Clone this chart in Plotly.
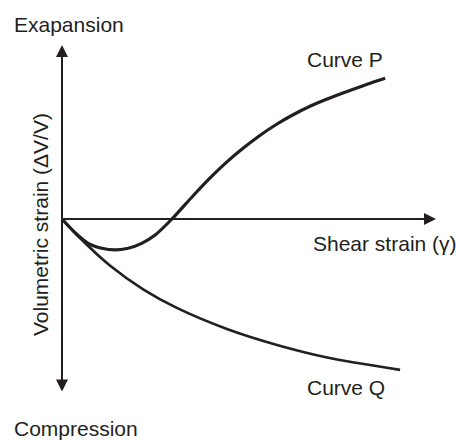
import plotly.graph_objects as go

# Curve P: dilation after initial compression (arbitrary units)
shear_p = [0, 0.35, 0.70, 1.06, 1.42, 1.77, 2.13, 2.49, 2.94, 3.50, 3.96, 4.41, 4.84,
           5.29, 5.75, 6.18, 6.63, 7.09, 7.57, 8.16, 8.64]
vol_p = [0, -0.79, -1.40, -1.68, -1.78, -1.68, -1.40, -0.92, 0, 1.32, 2.36, 3.28, 4.06,
         4.80, 5.46, 5.99, 6.48, 6.90, 7.29, 7.75, 8.09]

# Curve Q: continuous compression
shear_q = [0, 0.48, 1.28, 2.17, 3.07, 4.41, 5.75, 7.09, 9.04]
vol_q = [0, -1.09, -2.67, -4.04, -5.11, -6.32, -7.24, -7.96, -8.67]

x_axis_end = 10
y_axis_end = 10

INK = "#231f20"
FONT = "Liberation Sans, Arial, sans-serif"

fig = go.Figure()
fig.add_trace(go.Scatter(x=shear_p, y=vol_p, mode="lines",
                         line=dict(color=INK, width=3.2, shape="spline", smoothing=0.8),
                         showlegend=False, hoverinfo="skip"))
fig.add_trace(go.Scatter(x=shear_q, y=vol_q, mode="lines",
                         line=dict(color=INK, width=2.6, shape="spline", smoothing=0.8),
                         showlegend=False, hoverinfo="skip"))

# axes drawn as arrows
fig.add_annotation(x=0, y=y_axis_end, ax=0, ay=-y_axis_end, xref="x", yref="y",
                   axref="x", ayref="y", text="", showarrow=True,
                   arrowhead=2, arrowsize=1.2, arrowwidth=2, arrowcolor=INK,
                   arrowside="end+start")
fig.add_annotation(x=x_axis_end, y=0, ax=0, ay=0, xref="x", yref="y",
                   axref="x", ayref="y", text="", showarrow=True,
                   arrowhead=2, arrowsize=1.2, arrowwidth=2, arrowcolor=INK)

def label(text, x, y, xanchor="left", angle=0):
    fig.add_annotation(x=x / 456, y=1 - y / 440, xref="paper", yref="paper",
                       text=text, showarrow=False, xanchor=xanchor, yanchor="middle",
                       textangle=angle, font=dict(family=FONT, size=21, color=INK))

label("Exapansion", 12, 24)
label("Curve P", 305, 60)
label("Shear strain (γ)", 311, 243)
label("Curve Q", 305, 387)
label("Compression", 12, 428)
label("Volumetric strain (ΔV/V)", 40, 225, xanchor="center", angle=-90)

fig.update_layout(
    width=456, height=440,
    margin=dict(l=0, r=0, t=0, b=0),
    paper_bgcolor="white", plot_bgcolor="white",
    xaxis=dict(range=[-1.658, 10.535], visible=False, fixedrange=True),
    yaxis=dict(range=[-12.701, 12.586], visible=False, fixedrange=True),
)
fig.write_html("out.html", config={"displayModeBar": False},
               post_script="document.body.style.margin='0';document.body.style.overflow='hidden';")
